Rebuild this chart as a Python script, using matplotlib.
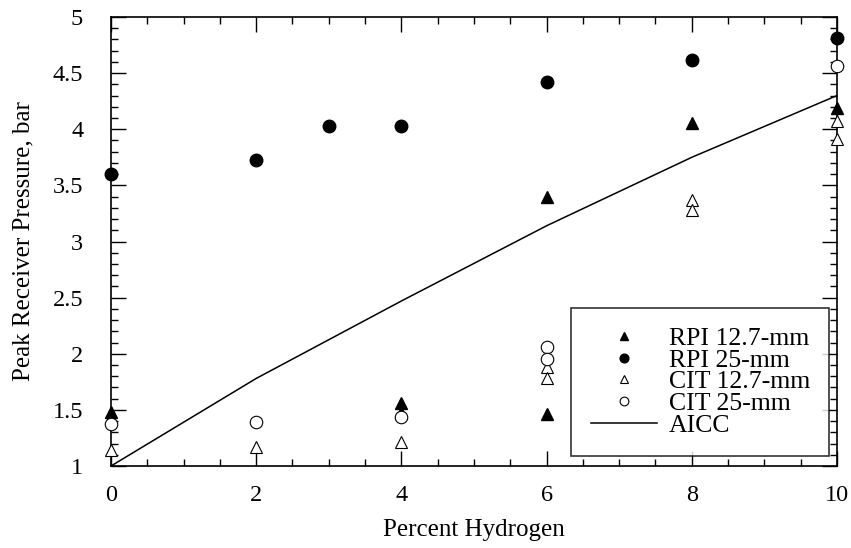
import matplotlib
matplotlib.use('Agg')
import matplotlib.pyplot as plt
from matplotlib.ticker import MultipleLocator

plt.rcParams['font.family'] = ['Liberation Serif', 'DejaVu Serif']

# data
rpi127_x = [0, 4, 4, 6, 6, 8, 10]
rpi127_y = [1.48, 1.56, 1.47, 3.40, 1.46, 4.06, 4.19]

rpi25_x = [0, 2, 3, 4, 6, 8, 10]
rpi25_y = [3.60, 3.73, 4.03, 4.03, 4.42, 4.62, 4.81]

cit127_x = [0, 2, 4, 6, 6, 8, 8, 10, 10]
cit127_y = [1.14, 1.17, 1.21, 1.88, 1.78, 3.37, 3.28, 4.07, 3.91]

cit25_x = [0, 2, 4, 6, 6, 10]
cit25_y = [1.37, 1.39, 1.44, 2.06, 1.95, 4.56]

aicc_x = [0, 2, 4, 6, 8, 10]
aicc_y = [1.0, 1.78, 2.47, 3.14, 3.75, 4.30]

labels = ['RPI 12.7-mm', 'RPI 25-mm', 'CIT 12.7-mm', 'CIT 25-mm', 'AICC']

fig = plt.figure(figsize=(8.51, 5.48), dpi=100)
ax = fig.add_axes([0.1304, 0.1496, 0.8531, 0.8194])

ax.plot(rpi127_x, rpi127_y, linestyle='none', marker='^', ms=9,
        color='black', label=labels[0], clip_on=False, zorder=3)
ax.plot(rpi25_x, rpi25_y, linestyle='none', marker='o', ms=9,
        color='black', label=labels[1], clip_on=False, zorder=3)
ax.plot(cit127_x, cit127_y, linestyle='none', marker='^', ms=9,
        mfc='white', mec='black', mew=0.8, label=labels[2], clip_on=False, zorder=3)
ax.plot(cit25_x, cit25_y, linestyle='none', marker='o', ms=9,
        mfc='white', mec='black', mew=0.8, label=labels[3], clip_on=False, zorder=3)
ax.plot(aicc_x, aicc_y, color='black', lw=1.1, label=labels[4])

ax.set_xlim(0, 10)
ax.set_ylim(1, 5)
ax.xaxis.set_major_locator(MultipleLocator(2))
ax.xaxis.set_minor_locator(MultipleLocator(0.5))
ax.yaxis.set_major_locator(MultipleLocator(0.5))
ax.yaxis.set_minor_locator(MultipleLocator(0.1))
ax.yaxis.set_major_formatter(plt.FuncFormatter(lambda v, p: ('%g' % v)))

ax.tick_params(which='both', direction='in', top=True, right=True, width=1)
ax.tick_params(which='major', length=11)
ax.tick_params(which='minor', length=5)
ax.tick_params(axis='x', which='major', labelsize=17.5, pad=14)
ax.tick_params(axis='y', which='major', labelsize=17.5, pad=20)
for s in ax.spines.values():
    s.set_linewidth(1.2)

ax.set_xlabel('Percent Hydrogen', fontsize=18, labelpad=9)
ax.set_ylabel('Peak Receiver Pressure, bar', fontsize=18, labelpad=13)

leg = ax.legend(loc='lower right', bbox_to_anchor=(0.9897, 0.0223),
                borderaxespad=0, fontsize=18.5, markerscale=0.7,
                handlelength=2.6, handletextpad=0.45, labelspacing=-0.05,
                borderpad=0.75, frameon=True, fancybox=False)
leg.get_frame().set_edgecolor('black')
leg.get_frame().set_linewidth(1.2)

fig.savefig('out.png', dpi=100)
